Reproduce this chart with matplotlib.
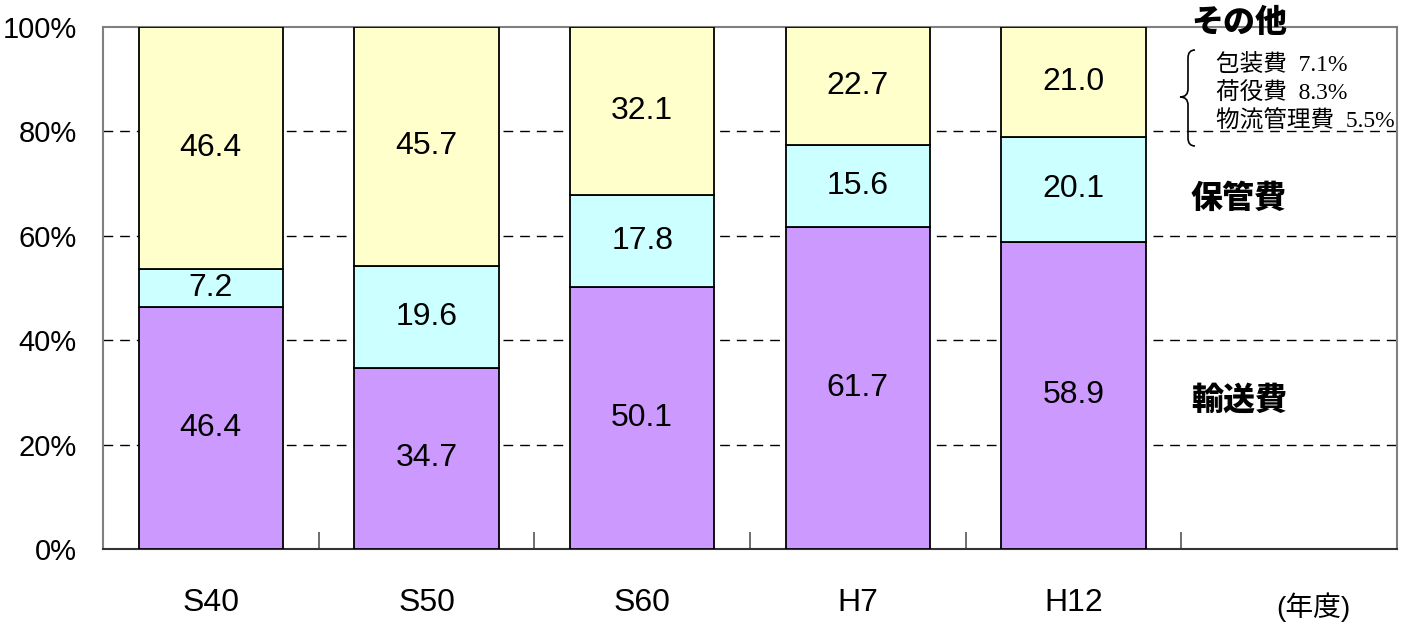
import numpy as np
import matplotlib.pyplot as plt
from matplotlib.path import Path
from matplotlib.patches import PathPatch

years = ["S40", "S50", "S60", "H7", "H12"]
transport = [46.4, 34.7, 50.1, 61.7, 58.9]   # 輸送費
storage = [7.2, 19.6, 17.8, 15.6, 20.1]      # 保管費
other = [46.4, 45.7, 32.1, 22.7, 21.0]       # その他
other_items = ["包装費  7.1%", "荷役費  8.3%", "物流管理費  5.5%"]

num_font = ["Liberation Sans", "DejaVu Sans"]
jp_bold = ["Noto Sans CJK JP", "DejaVu Sans"]
jp_mix = ["Liberation Serif", "Noto Sans CJK JP"]

W, H = 1407, 623
fig = plt.figure(figsize=(W / 100, H / 100), dpi=100)
ax = fig.add_axes([103 / W, 1 - 549 / H, (1397 - 103) / W, (549 - 27) / H])

x = np.arange(len(years))
bw = 0.67
colors = ["#CC99FF", "#CCFFFF", "#FFFFCC"]
bottom = np.zeros(len(years))
for vals, c in zip([transport, storage, other], colors):
    vals = np.array(vals)
    ax.bar(x, vals, bw, bottom=bottom, color=c, edgecolor="black", linewidth=1.3, zorder=3)
    for xi, b, v in zip(x, bottom, vals):
        ax.text(xi, b + v / 2, f"{v:.1f}", ha="center", va="center",
                fontsize=23, family=num_font, zorder=4)
    bottom += vals

ax.set_xlim(-0.5, 5.5)
ax.set_ylim(0, 100)

# y axis
ax.set_yticks(np.arange(0, 101, 20))
ax.set_yticklabels([f"{v}%" for v in range(0, 101, 20)], family=num_font, fontsize=21)
ax.tick_params(axis="y", length=0, pad=19)
for v in [20, 40, 60, 80]:
    ax.axhline(v, color="black", linestyle=(0, (7, 5)), linewidth=1.0, zorder=1)

# x axis: boundary ticks inward, labels centered
ax.set_xticks(np.arange(0.5, 5.0, 1.0))
ax.set_xticklabels([])
ax.tick_params(axis="x", which="major", direction="in", length=12, width=1.2, color="#555555")
ax.set_xticks(x, minor=True)
ax.set_xticklabels(years, minor=True, family=num_font, fontsize=23)
ax.tick_params(axis="x", which="minor", length=0, pad=28)

for s in ["left", "top", "right"]:
    ax.spines[s].set_color("#808080")
    ax.spines[s].set_linewidth(1.5)
ax.spines["bottom"].set_color("#333333")
ax.spines["bottom"].set_linewidth(1.5)

# right side labels (figure pixel coords)
def fx(px):
    return px / W

def fy(py):
    return 1 - py / H

for label, py in [("その他", 22), ("保管費", 198), ("輸送費", 400)]:
    fig.text(fx(1239), fy(py), label, ha="center", va="center", fontsize=23,
             fontweight="black", family=jp_bold)

for i, t in enumerate(other_items):
    fig.text(fx(1216), fy(65 + 28.5 * i), t, ha="left", va="center", fontsize=17,
             family=jp_mix)

# curly brace
xb, xm, xt = 1195, 1188, 1180
yt, ymid, yb = 50, 97, 146
verts = [(xb, yt), (xm, yt), (xm, yt + 8),
         (xm, ymid - 8),
         (xm, ymid), (xt, ymid),
         (xm, ymid), (xm, ymid + 8),
         (xm, yb - 8),
         (xm, yb), (xb, yb)]
codes = [Path.MOVETO, Path.CURVE3, Path.CURVE3,
         Path.LINETO,
         Path.CURVE3, Path.CURVE3,
         Path.CURVE3, Path.CURVE3,
         Path.LINETO,
         Path.CURVE3, Path.CURVE3]
verts = [(fx(a), fy(b)) for a, b in verts]
fig.add_artist(PathPatch(Path(verts, codes), transform=fig.transFigure,
                         fill=False, edgecolor="black", linewidth=1.2))

fig.text(fx(1313), fy(607), "(年度)", ha="center", va="center", fontsize=20,
         family=["Liberation Sans", "Noto Sans CJK JP"])

fig.savefig("out.png", dpi=100)
